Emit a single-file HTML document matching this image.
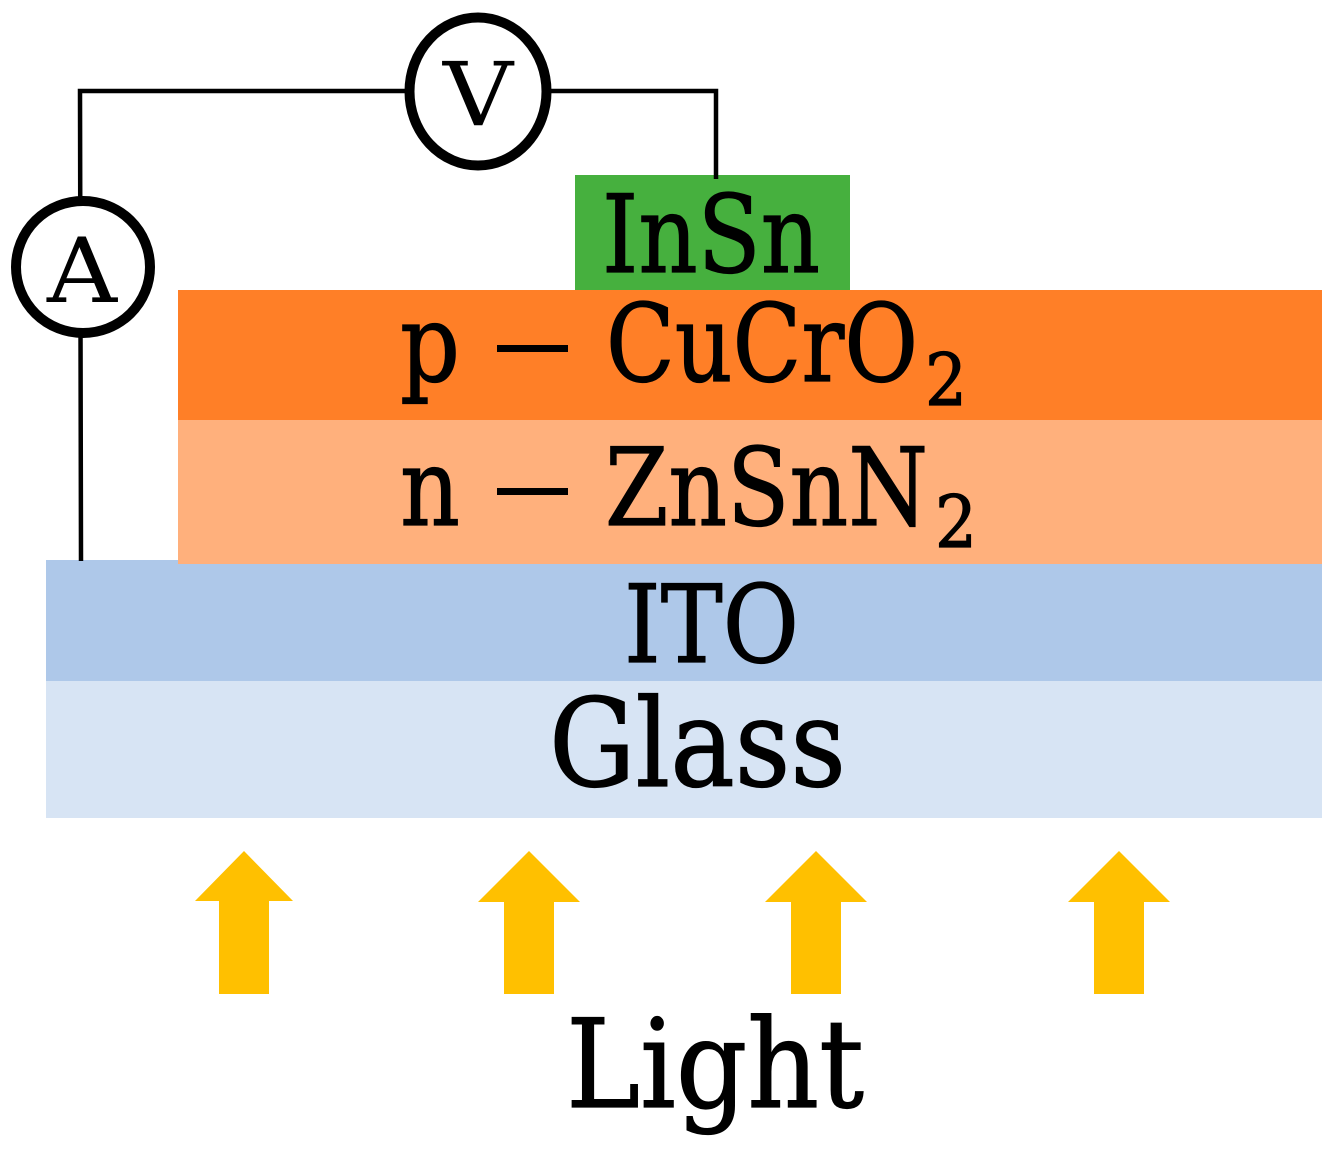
<!DOCTYPE html>
<html>
<head>
<meta charset="utf-8">
<style>
html,body{margin:0;padding:0;background:#fff;}
svg{display:block;}
text{font-family:"DejaVu Serif","Liberation Serif",serif;fill:#000;}
.b{stroke:#000;stroke-width:1.2px;}
</style>
</head>
<body>
<svg width="1332" height="1149" viewBox="0 0 1332 1149" xmlns="http://www.w3.org/2000/svg">
<rect x="575" y="175" width="275" height="115" fill="#46b03e"/>
<rect x="46" y="560" width="1276" height="122" fill="#aec8e9"/>
<rect x="46" y="681" width="1276" height="137" fill="#d7e4f4"/>
<rect x="178" y="290" width="1144" height="130" fill="#ff7f27"/>
<rect x="178" y="420" width="1144" height="144" fill="#ffb07c"/>
<path d="M81 561 L80 91 L716 91 L716 179" fill="none" stroke="#000" stroke-width="4.500"/>
<ellipse cx="478" cy="91.500" rx="68.500" ry="74" fill="#fff" stroke="#000" stroke-width="10"/>
<ellipse cx="83" cy="267" rx="67" ry="66" fill="#fff" stroke="#000" stroke-width="10"/>
<text x="478" y="125" font-size="88" text-anchor="middle" textLength="70" lengthAdjust="spacingAndGlyphs">V</text>
<text x="82" y="302" font-size="90" text-anchor="middle" textLength="70" lengthAdjust="spacingAndGlyphs">A</text>
<text class="b" x="602" y="272" font-size="108" textLength="218" lengthAdjust="spacingAndGlyphs">InSn</text>
<text class="b" x="400" y="381" font-size="108" textLength="60" lengthAdjust="spacingAndGlyphs">p</text>
<rect x="497" y="345" width="71" height="7"/>
<text class="b" x="606" y="381" font-size="108" textLength="312" lengthAdjust="spacingAndGlyphs">CuCrO</text>
<text class="b" x="925" y="405" font-size="72" textLength="42" lengthAdjust="spacingAndGlyphs">2</text>
<text class="b" x="400" y="525" font-size="108" textLength="60" lengthAdjust="spacingAndGlyphs">n</text>
<rect x="497" y="488" width="71" height="7"/>
<text class="b" x="605" y="525" font-size="108" textLength="323" lengthAdjust="spacingAndGlyphs">ZnSnN</text>
<text class="b" x="935" y="547" font-size="72" textLength="42" lengthAdjust="spacingAndGlyphs">2</text>
<text class="b" x="624" y="662" font-size="108" textLength="175" lengthAdjust="spacingAndGlyphs">ITO</text>
<text class="b" x="549" y="786" font-size="122" textLength="297" lengthAdjust="spacingAndGlyphs">Glass</text>
<text class="b" x="566" y="1107" font-size="123" textLength="298" lengthAdjust="spacingAndGlyphs">Light</text>
<polygon points="244,851 293,901 269,901 269,994 219,994 219,901 195,901" fill="#ffc000"/>
<polygon points="529,851 580,902 554,902 554,994 504,994 504,902 478,902" fill="#ffc000"/>
<polygon points="816,851 867,902 841,902 841,994 791,994 791,902 765,902" fill="#ffc000"/>
<polygon points="1119,851 1170,902 1144,902 1144,994 1094,994 1094,902 1068,902" fill="#ffc000"/>
</svg>
</body>
</html>
